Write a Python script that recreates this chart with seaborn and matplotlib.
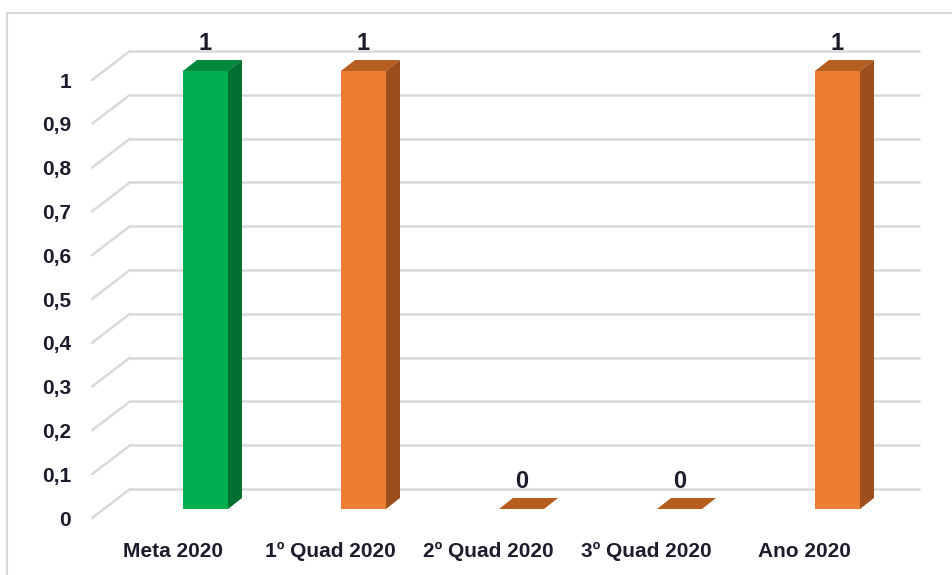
import numpy as np
import pandas as pd
import matplotlib
matplotlib.use("Agg")
import matplotlib.pyplot as plt
from matplotlib.patches import Polygon
from matplotlib.lines import Line2D
import seaborn as sns

# dados do gráfico
categorias = ['Meta 2020', '1º Quad 2020', '2º Quad 2020', '3º Quad 2020', 'Ano 2020']
valores = [1, 1, 0, 0, 1]
cores_frente = ['#00B050', '#ED7D31', '#ED7D31', '#ED7D31', '#ED7D31']
cores_lado = ['#007030', '#9A4F1D', '#9A4F1D', '#9A4F1D', '#9A4F1D']
cores_topo = ['#00883C', '#B55E1F', '#B55E1F', '#B55E1F', '#B55E1F']
ticks_y = [0, 0.1, 0.2, 0.3, 0.4, 0.5, 0.6, 0.7, 0.8, 0.9, 1]
rotulos_y = ['0', '0,1', '0,2', '0,3', '0,4', '0,5', '0,6', '0,7', '0,8', '0,9', '1']

sns.set_theme(style="white")
plt.rcParams['font.family'] = ['Liberation Sans', 'DejaVu Sans']
cor_texto = '#1c1c2c'
cor_grade = '#d9d9d9'

W, H = 952, 575
fig = plt.figure(figsize=(W / 100, H / 100), dpi=100)

# escala em pixels (efeito 3D como no Excel)
px_x, px_y = 158.0, 438.0
DX, DY = 14 / px_x, 11 / px_y          # profundidade das barras
largura = 45 / px_x
off_chao = -9 / px_y                   # borda frontal do piso
off_fundo = 20 / px_y                  # parede do fundo
off_rot = -33 / px_x                   # rótulos do eixo x
x_esq, x_fundo, x_dir = (92 - 205.5) / px_x, (130 - 205.5) / px_x, (920 - 205.5) / px_x
y_top = (509 - 30) / px_y

ax = fig.add_axes([92 / W, (H - 518) / H, 828 / W, (518 - 30) / H])

sns.barplot(x=categorias, y=valores, hue=categorias, palette=cores_frente, width=largura,
            saturation=1, legend=False, ax=ax, zorder=2, linewidth=0)

# linhas de grade (parede de fundo + diagonal do piso lateral)
for v in ticks_y:
    ax.plot([x_fundo, x_dir], [v + off_fundo, v + off_fundo], color=cor_grade, lw=1.8, zorder=0.5,
            solid_capstyle='butt', clip_on=False)
    ax.plot([x_esq, x_fundo], [v + off_chao, v + off_fundo], color=cor_grade, lw=1.8, zorder=0.5,
            clip_on=False)

# faces lateral e superior
for i, v in enumerate(valores):
    x0, x1 = i - largura / 2, i + largura / 2
    topo = Polygon([(x0, v), (x1, v), (x1 + DX, v + DY), (x0 + DX, v + DY)], closed=True,
                   facecolor=cores_topo[i], edgecolor='none', zorder=2)
    ax.add_patch(topo)
    if v > 0:
        lado = Polygon([(x1, 0), (x1 + DX, DY), (x1 + DX, v + DY), (x1, v)], closed=True,
                       facecolor=cores_lado[i], edgecolor='none', zorder=2)
        ax.add_patch(lado)
    ax.text(i, v + 0.062, f'{v}', ha='center', va='center', fontsize=17, fontweight='bold',
            color=cor_texto)

ax.set_xlim(x_esq, x_dir)
ax.set_ylim(off_chao, y_top)
ax.set_yticks([v + off_chao for v in ticks_y])
ax.set_yticklabels(rotulos_y)
ax.set_xticks([i + off_rot for i in range(len(categorias))])
ax.set_xticklabels(categorias)
ax.tick_params(axis='both', length=0, labelsize=15, labelcolor=cor_texto)
ax.tick_params(axis='y', pad=15)
ax.tick_params(axis='x', pad=17)
for lab in ax.get_xticklabels() + ax.get_yticklabels():
    lab.set_fontweight('bold')
ax.set_xlabel('')
ax.set_ylabel('')
ax.grid(False)
sns.despine(ax=ax, left=True, bottom=True)
ax.patch.set_alpha(0)

# moldura do gráfico
fig.add_artist(Line2D([7 / W, 1], [1 - 13 / H, 1 - 13 / H], color=cor_grade, lw=1.5,
                      transform=fig.transFigure))
fig.add_artist(Line2D([7 / W, 7 / W], [0, 1 - 13 / H], color=cor_grade, lw=1.5,
                      transform=fig.transFigure))

fig.savefig('out.png', dpi=100)
